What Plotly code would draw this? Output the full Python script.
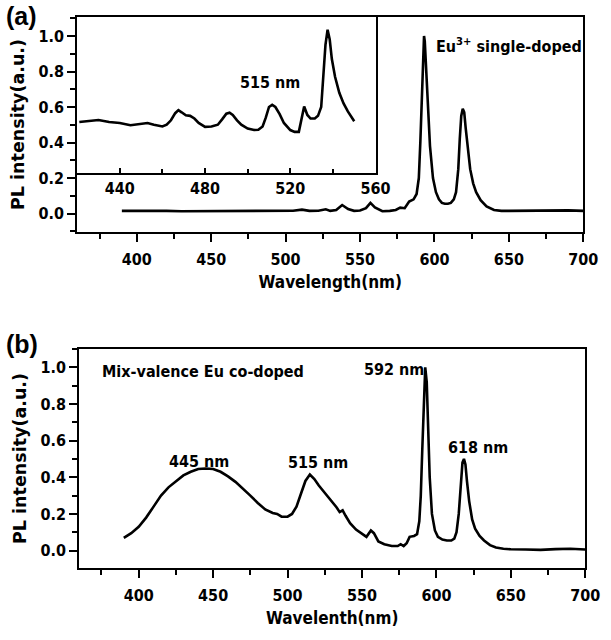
import plotly.graph_objects as go

# ---------------- data ----------------
# (a) Eu3+ single-doped, main spectrum
a_wl = [390, 400, 410, 420, 430, 440, 450, 460, 470, 480, 490, 500, 505, 511, 516, 522, 527, 530, 534, 538,
        542, 546, 550, 554, 557, 560, 565, 570, 574, 577, 580, 583, 586, 588, 589.5, 590.5, 591.5, 592.5, 593,
        593.5, 594.5, 595.5, 597, 599, 601, 603, 605, 607, 609, 611, 613, 614.5, 616, 617, 618, 619, 620, 621,
        622.5, 624, 626, 628, 631, 635, 640, 645, 650, 660, 670, 680, 690, 700]
a_pl = [0.015, 0.016, 0.014, 0.015, 0.013, 0.013, 0.014, 0.013, 0.016, 0.014, 0.015, 0.015, 0.016, 0.022, 0.015,
        0.016, 0.024, 0.015, 0.020, 0.048, 0.025, 0.015, 0.017, 0.030, 0.060, 0.035, 0.013, 0.015, 0.020, 0.033,
        0.030, 0.068, 0.080, 0.110, 0.200, 0.400, 0.700, 0.950, 1.000, 0.970, 0.800, 0.600, 0.380, 0.200, 0.120,
        0.080, 0.060, 0.055, 0.055, 0.060, 0.080, 0.120, 0.250, 0.420, 0.550, 0.590, 0.570, 0.480, 0.350, 0.250,
        0.170, 0.120, 0.075, 0.040, 0.020, 0.015, 0.015, 0.016, 0.014, 0.017, 0.018, 0.015]

# (a) inset (values read in the main-axis units)
ins_wl = [421, 425, 430, 435, 440, 445, 450, 453, 456, 460, 462, 464, 466, 467.5, 469, 471, 473, 475, 477, 480,
          483, 486, 488, 490, 491.5, 493, 495, 497, 500, 503, 505, 507, 508.5, 510, 511.5, 513, 515, 517, 520,
          522, 524, 525, 526.5, 528, 529.5, 531.5, 533, 534.5, 535.5, 536.5, 537.5, 538.5, 539.5, 541, 543,
          545, 547, 550]
ins_pl = [0.515, 0.520, 0.527, 0.515, 0.510, 0.497, 0.503, 0.510, 0.500, 0.490, 0.500, 0.525, 0.565, 0.582,
          0.570, 0.553, 0.550, 0.535, 0.510, 0.488, 0.490, 0.500, 0.530, 0.562, 0.568, 0.555, 0.525, 0.500,
          0.478, 0.470, 0.472, 0.490, 0.540, 0.600, 0.612, 0.600, 0.560, 0.510, 0.470, 0.460, 0.460, 0.520,
          0.603, 0.555, 0.535, 0.535, 0.550, 0.600, 0.750, 0.950, 1.035, 0.980, 0.870, 0.770, 0.680, 0.620,
          0.575, 0.520]

# (b) mixed-valence Eu co-doped
b_wl = [390, 395, 400, 405, 410, 415, 420, 425, 430, 435, 440, 445, 450, 455, 460, 465, 470, 475, 480, 485,
        490, 493, 496, 500, 503, 506, 509, 512, 515, 518, 521, 524, 527, 530, 533, 535, 537, 539, 542, 546,
        550, 553, 556, 558, 561, 565, 570, 574, 576, 578, 580, 582, 585, 587, 588.5, 589.5, 590.5, 591.5,
        592.5, 593.5, 594.5, 595.5, 597, 599, 601, 604, 607, 610, 612, 613.5, 615, 616.5, 617.5, 618.5,
        619.5, 620.5, 622, 624, 626, 629, 632, 636, 640, 645, 650, 660, 670, 680, 690, 700]
b_pl = [0.069, 0.095, 0.130, 0.180, 0.240, 0.300, 0.345, 0.380, 0.410, 0.430, 0.445, 0.448, 0.445, 0.430,
        0.405, 0.375, 0.340, 0.300, 0.260, 0.225, 0.205, 0.200, 0.185, 0.185, 0.200, 0.240, 0.310, 0.380,
        0.415, 0.390, 0.355, 0.325, 0.295, 0.270, 0.235, 0.210, 0.220, 0.190, 0.150, 0.115, 0.090, 0.075,
        0.110, 0.095, 0.050, 0.035, 0.025, 0.025, 0.035, 0.025, 0.040, 0.075, 0.080, 0.090, 0.160, 0.300,
        0.550, 0.850, 1.000, 0.920, 0.650, 0.400, 0.200, 0.110, 0.075, 0.060, 0.055, 0.055, 0.065, 0.100,
        0.200, 0.380, 0.480, 0.500, 0.470, 0.380, 0.270, 0.170, 0.120, 0.080, 0.055, 0.030, 0.017, 0.010,
        0.007, 0.006, 0.004, 0.008, 0.010, 0.006]

main_xticks = [400, 450, 500, 550, 600, 650, 700]
inset_xticks = [440, 480, 520, 560]
yticks = [0.0, 0.2, 0.4, 0.6, 0.8, 1.0]

# ---------------- styling ----------------
W, H = 611, 640
NARROW = "DejaVu Sans Condensed, Liberation Sans Narrow, Liberation Sans, Arial"
BOLDF = "DejaVu Sans, Liberation Sans, Arial"
tickfont = dict(family=NARROW, size=16, color="black", weight="bold")
line = dict(color="black", width=2.6)

def px_x(p):
    return p / W

def px_y(p):
    return 1 - p / H

fig = go.Figure()
fig.add_trace(go.Scatter(x=a_wl, y=a_pl, mode="lines", line=line, xaxis="x", yaxis="y", showlegend=False))
fig.add_trace(go.Scatter(x=ins_wl, y=ins_pl, mode="lines", line=line, xaxis="x3", yaxis="y3", showlegend=False))
fig.add_trace(go.Scatter(x=b_wl, y=b_pl, mode="lines", line=line, xaxis="x2", yaxis="y2", showlegend=False))

def xax(domain, anchor, title):
    return dict(domain=domain, anchor=anchor, range=[360, 700], tickvals=main_xticks,
                ticks="outside", ticklen=8, tickwidth=2, tickcolor="black", ticklabelstandoff=4,
                minor=dict(dtick=25, tick0=375, ticks="outside", ticklen=5, tickwidth=2, tickcolor="black"),
                showline=True, linewidth=2, linecolor="black", mirror=True, showgrid=False, zeroline=False,
                tickfont=tickfont,
                title=dict(text=title, font=dict(family=NARROW, size=17, color="black", weight="bold"), standoff=8))

def yax(domain, anchor, rng):
    return dict(domain=domain, anchor=anchor, range=rng, tickvals=yticks, tickformat=".1f",
                ticks="outside", ticklen=8, tickwidth=2, tickcolor="black",
                minor=dict(dtick=0.1, tick0=0, ticks="outside", ticklen=5, tickwidth=2, tickcolor="black"),
                showline=True, linewidth=2, linecolor="black", mirror=True, showgrid=False, zeroline=False,
                tickfont=tickfont,
                title=dict(text="PL intensity(a.u.)", font=dict(family=BOLDF, size=17.5, color="black", weight="bold"),
                           standoff=9))

fig.update_layout(
    width=W, height=H, margin=dict(l=0, r=0, t=0, b=0),
    paper_bgcolor="white", plot_bgcolor="white",
    xaxis=xax([px_x(79), px_x(597)], "y", "Wavelength(nm)"),
    yaxis=yax([px_y(232), px_y(17)], "x", [-0.104, 1.107]),
    xaxis2=xax([px_x(81), px_x(599)], "y2", "Wavelenth(nm)"),
    yaxis2=yax([px_y(568), px_y(349)], "x2", [-0.095, 1.1]),
    xaxis3=dict(domain=[px_x(79), px_x(385)], anchor="y3", range=[420, 560.3], tickvals=inset_xticks,
                ticks="inside", ticklen=5, tickwidth=2, tickcolor="black",
                minor=dict(dtick=20, tick0=420, ticks="inside", ticklen=4, tickwidth=2, tickcolor="black"),
                showline=True, linewidth=2, linecolor="black", mirror=True, showgrid=False, zeroline=False,
                tickfont=tickfont),
    yaxis3=dict(domain=[px_y(173), px_y(17)], anchor="x3", range=[0.228, 1.107], showticklabels=False,
                ticks="", showline=True, linewidth=2, linecolor="black", mirror=True, showgrid=False,
                zeroline=False),
)

ann_font = dict(family=NARROW, size=16, color="black", weight="bold")
anns = [
    dict(text="<b>(a)</b>", x=px_x(4), y=px_y(16), xref="paper", yref="paper", xanchor="left", yanchor="middle",
         showarrow=False, font=dict(family="Liberation Sans, Arial", size=25, color="black")),
    dict(text="<b>(b)</b>", x=px_x(4), y=px_y(344), xref="paper", yref="paper", xanchor="left", yanchor="middle",
         showarrow=False, font=dict(family="Liberation Sans, Arial", size=25, color="black")),
    dict(text="Eu<sup>3+</sup> single-doped", x=599.5, y=0.949, xref="x", yref="y", xanchor="left",
         yanchor="middle", showarrow=False, font=ann_font),
    dict(text="515 nm", x=510.6, y=0.74, xref="x3", yref="y3", xanchor="center", yanchor="middle",
         showarrow=False, font=ann_font),
    dict(text="Mix-valence Eu co-doped", x=373.8, y=0.977, xref="x2", yref="y2", xanchor="left",
         yanchor="middle", showarrow=False, font=ann_font),
    dict(text="445 nm", x=440.3, y=0.486, xref="x2", yref="y2", showarrow=False, font=ann_font),
    dict(text="515 nm", x=520.5, y=0.48, xref="x2", yref="y2", showarrow=False, font=ann_font),
    dict(text="592 nm", x=571.2, y=0.987, xref="x2", yref="y2", showarrow=False, font=ann_font),
    dict(text="618 nm", x=627.8, y=0.562, xref="x2", yref="y2", showarrow=False, font=ann_font),
]
fig.update_layout(annotations=anns)

fig.write_html("out.html")
